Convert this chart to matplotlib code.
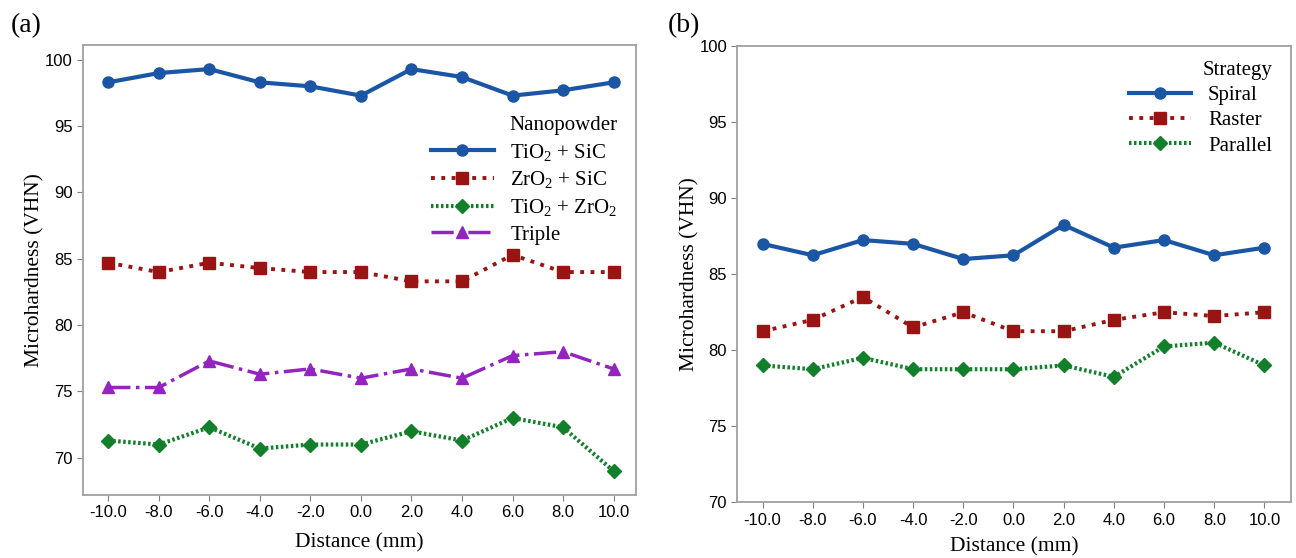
import matplotlib.pyplot as plt
import numpy as np

plt.rcParams['mathtext.default'] = 'regular'

distance = [-10.0, -8.0, -6.0, -4.0, -2.0, 0.0, 2.0, 4.0, 6.0, 8.0, 10.0]
tick_labels = ['-10.0', '-8.0', '-6.0', '-4.0', '-2.0', '0.0', '2.0', '4.0', '6.0', '8.0', '10.0']

# (a) nanopowder types
tio2_sic = [98.3, 99.0, 99.3, 98.3, 98.0, 97.3, 99.3, 98.7, 97.3, 97.7, 98.3]
zro2_sic = [84.7, 84.0, 84.7, 84.3, 84.0, 84.0, 83.3, 83.3, 85.3, 84.0, 84.0]
tio2_zro2 = [71.3, 71.0, 72.3, 70.7, 71.0, 71.0, 72.0, 71.3, 73.0, 72.3, 69.0]
triple = [75.3, 75.3, 77.3, 76.3, 76.7, 76.0, 76.7, 76.0, 77.7, 78.0, 76.7]

# (b) deposition strategies
spiral = [87.0, 86.25, 87.25, 87.0, 86.0, 86.25, 88.25, 86.75, 87.25, 86.25, 86.75]
raster = [81.25, 82.0, 83.5, 81.5, 82.5, 81.25, 81.25, 82.0, 82.5, 82.25, 82.5]
parallel = [79.0, 78.75, 79.5, 78.75, 78.75, 78.75, 79.0, 78.25, 80.25, 80.5, 79.0]

blue = '#1b56a5'
red = '#9a1414'
green = '#12802a'
purple = '#9424c0'

tick_font = ['Liberation Sans', 'DejaVu Sans']
label_font = ['Liberation Serif', 'DejaVu Serif']

fig = plt.figure(figsize=(12.96, 5.58), dpi=100)
ax1 = fig.add_axes([0.064, 0.113, 0.427, 0.806])
ax2 = fig.add_axes([0.569, 0.100, 0.427, 0.817])


def style(ax, xpad):
    for s in ax.spines.values():
        s.set_color('#a0a0a0')
        s.set_linewidth(1.3)
    ax.tick_params(direction='out', length=4, color='#808080', labelsize=12)
    ax.set_xticks(distance)
    ax.set_xticklabels(tick_labels)
    for t in ax.get_xticklabels() + ax.get_yticklabels():
        t.set_family(tick_font)
    ax.set_xlabel('Distance (mm)', family=label_font, fontsize=15.5, labelpad=xpad)
    ax.set_ylabel('Microhardness (VHN)', family=label_font, fontsize=15.5, labelpad=0)


ax1.plot(distance, tio2_sic, color=blue, lw=3, marker='o', ms=8, label='TiO$_2$ + SiC')
ax1.plot(distance, zro2_sic, color=red, lw=2.8, ls=':', marker='s', ms=8, label='ZrO$_2$ + SiC')
ax1.plot(distance, tio2_zro2, color=green, lw=3, ls=(0, (0.6, 0.6)), marker='D', ms=7, label='TiO$_2$ + ZrO$_2$')
ax1.plot(distance, triple, color=purple, lw=2.5, ls='-.', marker='^', ms=8, label='Triple')
ax1.set_xlim(-11.0, 10.9)
ax1.set_ylim(67.2, 101.1)
ax1.set_yticks([70, 75, 80, 85, 90, 95, 100])
style(ax1, 9)
leg1 = ax1.legend(title='Nanopowder', loc='upper right', bbox_to_anchor=(1.0, 0.885), frameon=False,
                  prop={'family': label_font, 'size': 15}, handlelength=3.0, labelspacing=0.33)
leg1.get_title().set_fontfamily(label_font)
leg1.get_title().set_fontsize(15)
leg1._legend_box.align = 'right'

ax2.plot(distance, spiral, color=blue, lw=3, marker='o', ms=8, label='Spiral')
ax2.plot(distance, raster, color=red, lw=2.8, ls=':', marker='s', ms=8, label='Raster')
ax2.plot(distance, parallel, color=green, lw=3, ls=(0, (0.6, 0.6)), marker='D', ms=7, label='Parallel')
ax2.set_xlim(-11.0, 11.05)
ax2.set_ylim(70, 100)
ax2.set_yticks([70, 75, 80, 85, 90, 95, 100])
style(ax2, 7)
leg2 = ax2.legend(title='Strategy', loc='upper right', bbox_to_anchor=(1.0, 1.01), frameon=False,
                  prop={'family': label_font, 'size': 15}, handlelength=3.0, labelspacing=0.28)
leg2.get_title().set_fontfamily(label_font)
leg2.get_title().set_fontsize(15)
leg2._legend_box.align = 'right'

fig.text(0.008, 0.955, '(a)', family=label_font, fontsize=20, va='center')
fig.text(0.515, 0.955, '(b)', family=label_font, fontsize=20, va='center')

fig.savefig('out.png', dpi=100)
